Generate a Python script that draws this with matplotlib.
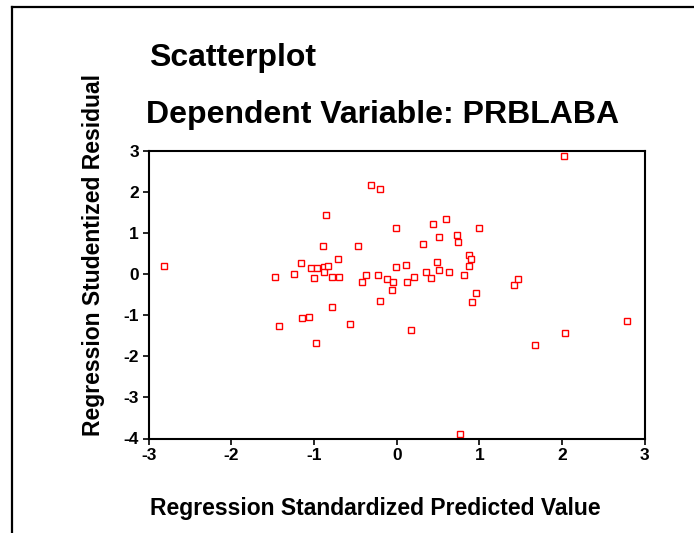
import matplotlib
matplotlib.use("Agg")
import matplotlib.pyplot as plt
from matplotlib.lines import Line2D

plt.rcParams['font.family'] = ['Liberation Sans', 'DejaVu Sans']
plt.rcParams['font.weight'] = 'bold'

# Data
pred = [-2.82, -1.47, -1.24, -1.16, -1.04, -1.00, -0.96, -0.89, -0.88, -0.876,
        -0.86, -0.83, -0.78, -0.71, -0.70, -0.47, -0.42, -0.37, -0.31, -0.23,
        -0.20, -0.12, -0.06, -0.04, -0.01, -0.01, 2.02, 0.44, 0.60, 0.99,
        0.51, 0.73, 0.74, 0.32, 0.87, 0.90, 0.87, 0.49, 0.11, 0.51,
        0.35, 0.63, 0.21, 0.41, 0.82, 0.13, 1.42, 1.47, 0.96, -1.42,
        -1.14, -1.06, -0.98, -0.78, -0.57, -0.20, 0.91, 0.17, 1.67, 2.04,
        2.79, 0.77]
resid = [0.20, -0.07, 0.00, 0.27, 0.14, -0.10, 0.14, 0.69, 0.17, 0.06,
         1.44, 0.20, -0.07, 0.36, -0.07, 0.69, -0.19, -0.03, 2.16, -0.03,
         2.06, -0.12, -0.39, -0.19, 1.11, 0.17, 2.87, 1.21, 1.34, 1.12,
         0.89, 0.95, 0.79, 0.72, 0.46, 0.36, 0.20, 0.30, 0.23, 0.10,
         0.04, 0.04, -0.07, -0.10, -0.03, -0.19, -0.26, -0.13, -0.45, -1.27,
         -1.08, -1.05, -1.67, -0.79, -1.21, -0.66, -0.68, -1.37, -1.73, -1.43,
         -1.14, -3.88]

xticks = [-3, -2, -1, 0, 1, 2, 3]
yticks = [3, 2, 1, 0, -1, -2, -3, -4]

title1 = "Scatterplot"
title2 = "Dependent Variable: PRBLABA"
xlabel = "Regression Standardized Predicted Value"
ylabel = "Regression Studentized Residual"

W, H = 694, 533
fig = plt.figure(figsize=(W / 100, H / 100), dpi=100)
fig.patch.set_facecolor('white')

L, R, T, B = 148.7, 644.7, 150.7, 438.5
ax = fig.add_axes([L / W, 1 - B / H, (R - L) / W, (B - T) / H])
ax.plot(pred, resid, linestyle='none', marker='s', markersize=4.6,
        markerfacecolor='white', markeredgecolor='#ff0000', markeredgewidth=1.0)
ax.set_xlim(-3, 3)
ax.set_ylim(-4, 3)
ax.set_xticks(xticks)
ax.set_yticks(yticks)
ax.set_xticklabels([str(v) for v in xticks], fontsize=12.5, fontweight='bold')
ax.set_yticklabels([str(v) for v in yticks], fontsize=12.5, fontweight='bold')
ax.tick_params(direction='out', length=4, width=1.2, pad=3, top=False, right=False)
for s in ax.spines.values():
    s.set_linewidth(1.5)
    s.set_color('black')

# Titles and axis labels
fig.text(149 / W, 1 - 58 / H, title1, fontsize=23, fontweight='bold',
         ha='left', va='center')
fig.text(146 / W, 1 - 115 / H, title2, fontsize=23, fontweight='bold',
         ha='left', va='center')
fig.text(375 / W, 1 - 508 / H, xlabel, fontsize=16.5, fontweight='bold',
         ha='center', va='center')
fig.text(94 / W, 1 - 255 / H, ylabel, fontsize=16.5, fontweight='bold',
         ha='center', va='center', rotation=90)

# Outer frame (top and left edges)
fig.add_artist(Line2D([11.5 / W, 11.5 / W], [0, 1 - 7 / H], transform=fig.transFigure,
                      color='black', linewidth=1.6))
fig.add_artist(Line2D([11.5 / W, 1.0], [1 - 7 / H, 1 - 7 / H], transform=fig.transFigure,
                      color='black', linewidth=1.6))

fig.savefig("out.png", dpi=100, facecolor='white')
